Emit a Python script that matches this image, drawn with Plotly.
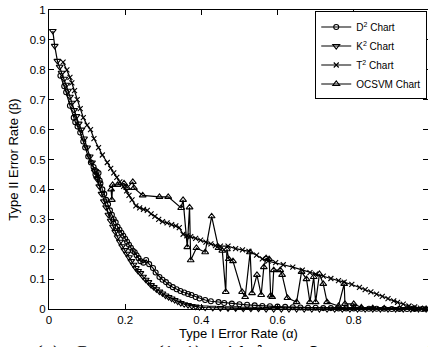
import plotly.graph_objects as go

# ---------------- data ----------------
d2_x = [0.030, 0.040, 0.045, 0.055, 0.065, 0.069, 0.075, 0.082, 0.090, 0.095, 0.103, 0.110, 0.117,
        0.120, 0.122, 0.125, 0.128, 0.130, 0.133, 0.135, 0.140, 0.145, 0.150, 0.155, 0.160, 0.165,
        0.170, 0.175, 0.180, 0.185, 0.190, 0.195, 0.200, 0.205, 0.210, 0.215, 0.220, 0.225, 0.230,
        0.235, 0.240, 0.248, 0.255, 0.263, 0.273, 0.280, 0.290, 0.298, 0.307, 0.315, 0.325, 0.335,
        0.345, 0.355, 0.365, 0.374, 0.385, 0.395, 0.410, 0.425, 0.445, 0.460, 0.480, 0.500, 0.520,
        0.540, 0.560, 0.580, 0.600, 0.620, 0.640, 0.660, 0.680, 0.700, 0.720, 0.740, 0.760, 0.780,
        0.800, 0.820, 0.840, 0.860, 0.880, 0.900, 0.920, 0.940, 0.960, 0.980, 1.000]
d2_y = [0.780, 0.745, 0.725, 0.680, 0.640, 0.625, 0.610, 0.590, 0.560, 0.540, 0.510, 0.490, 0.475,
        0.465, 0.450, 0.460, 0.440, 0.455, 0.430, 0.420, 0.400, 0.385, 0.365, 0.350, 0.330, 0.315,
        0.300, 0.290, 0.275, 0.265, 0.255, 0.245, 0.235, 0.225, 0.215, 0.205, 0.195, 0.190, 0.180,
        0.170, 0.160, 0.155, 0.164, 0.150, 0.137, 0.122, 0.107, 0.098, 0.090, 0.080, 0.073, 0.066,
        0.060, 0.055, 0.050, 0.047, 0.040, 0.035, 0.030, 0.026, 0.023, 0.020, 0.018, 0.016, 0.014,
        0.012, 0.010, 0.009, 0.008, 0.007, 0.006, 0.005, 0.004, 0.004, 0.003, 0.003, 0.002, 0.002,
        0.002, 0.001, 0.001, 0.001, 0.001, 0.000, 0.000, 0.000, 0.000, 0.000, 0.000]

k2_x = [0.010, 0.015, 0.022, 0.028, 0.033, 0.040, 0.045, 0.050, 0.055, 0.060, 0.066, 0.072, 0.078,
        0.085, 0.092, 0.100, 0.107, 0.113, 0.120, 0.126, 0.132, 0.138, 0.144, 0.150, 0.156, 0.162,
        0.168, 0.174, 0.180, 0.186, 0.192, 0.198, 0.204, 0.210, 0.216, 0.222, 0.228, 0.234, 0.240,
        0.247, 0.254, 0.261, 0.268, 0.275, 0.282, 0.290, 0.298, 0.306, 0.314, 0.322, 0.330, 0.338,
        0.346, 0.355, 0.365, 0.375, 0.385, 0.395, 0.410, 0.430, 0.450, 0.470, 0.490, 0.510, 0.530,
        0.550, 0.570, 0.590, 0.610, 0.630, 0.650, 0.670, 0.690, 0.710, 0.730, 0.750, 0.770, 0.790,
        0.810, 0.830, 0.850, 0.870, 0.890, 0.910, 0.930, 0.950, 0.970, 0.990]
k2_y = [0.930, 0.880, 0.830, 0.810, 0.790, 0.770, 0.750, 0.730, 0.710, 0.690, 0.665, 0.645, 0.620,
        0.600, 0.570, 0.540, 0.510, 0.490, 0.460, 0.435, 0.410, 0.385, 0.360, 0.340, 0.315, 0.295,
        0.275, 0.258, 0.240, 0.225, 0.210, 0.197, 0.185, 0.173, 0.160, 0.148, 0.137, 0.127, 0.120,
        0.108, 0.098, 0.090, 0.080, 0.073, 0.066, 0.058, 0.052, 0.045, 0.040, 0.035, 0.030, 0.025,
        0.020, 0.016, 0.013, 0.010, 0.008, 0.006, 0.005, 0.004, 0.003, 0.002, 0.002, 0.001, 0.001,
        0.001, 0.000, 0.000, 0.000, 0.000, 0.000, 0.000, 0.000, 0.000, 0.000, 0.000, 0.000, 0.000,
        0.000, 0.000, 0.000, 0.000, 0.000, 0.000, 0.000, 0.000, 0.000, 0.000]

t2_x = [0.037, 0.047, 0.055, 0.060, 0.067, 0.074, 0.082, 0.090, 0.100, 0.109, 0.118, 0.130, 0.140,
        0.153, 0.162, 0.170, 0.178, 0.186, 0.196, 0.204, 0.210, 0.218, 0.228, 0.238, 0.248, 0.258,
        0.268, 0.278, 0.288, 0.298, 0.310, 0.322, 0.333, 0.342, 0.352, 0.362, 0.372, 0.385, 0.398,
        0.412, 0.425, 0.437, 0.450, 0.470, 0.490, 0.508, 0.525, 0.545, 0.560, 0.575, 0.595, 0.615,
        0.640, 0.665, 0.685, 0.700, 0.720, 0.740, 0.760, 0.775, 0.795, 0.815, 0.830, 0.845, 0.860,
        0.875, 0.890, 0.905, 0.915, 0.930, 0.945, 0.960, 0.975, 0.990]
t2_y = [0.826, 0.800, 0.775, 0.756, 0.730, 0.700, 0.670, 0.640, 0.615, 0.600, 0.570, 0.540, 0.515,
        0.490, 0.470, 0.455, 0.440, 0.425, 0.410, 0.395, 0.380, 0.365, 0.345, 0.338, 0.333, 0.330,
        0.318, 0.310, 0.300, 0.292, 0.288, 0.282, 0.278, 0.272, 0.250, 0.245, 0.242, 0.236, 0.230,
        0.224, 0.218, 0.212, 0.210, 0.210, 0.202, 0.198, 0.193, 0.180, 0.168, 0.160, 0.155, 0.148,
        0.140, 0.130, 0.122, 0.117, 0.110, 0.102, 0.095, 0.090, 0.082, 0.072, 0.065, 0.057, 0.050,
        0.042, 0.035, 0.027, 0.022, 0.016, 0.010, 0.007, 0.003, 0.000]

oc_x = [0.163, 0.165, 0.167, 0.180, 0.197, 0.205, 0.220, 0.223, 0.246, 0.290, 0.313, 0.347, 0.352,
        0.363, 0.369, 0.372, 0.387, 0.410, 0.427, 0.445, 0.455, 0.464, 0.467, 0.472, 0.483, 0.507,
        0.515, 0.528, 0.533, 0.546, 0.557, 0.564, 0.570, 0.578, 0.582, 0.586, 0.590, 0.607, 0.612,
        0.626, 0.650, 0.663, 0.676, 0.685, 0.695, 0.700, 0.710, 0.720, 0.730, 0.760, 0.775, 0.777,
        0.800, 0.820, 0.850, 0.880, 0.920, 0.960, 0.990]
oc_y = [0.400, 0.365, 0.415, 0.415, 0.420, 0.405, 0.425, 0.405, 0.380, 0.375, 0.375, 0.338, 0.365,
        0.207, 0.340, 0.163, 0.204, 0.190, 0.310, 0.204, 0.195, 0.057, 0.200, 0.167, 0.160, 0.057,
        0.040, 0.190, 0.053, 0.114, 0.047, 0.140, 0.170, 0.167, 0.045, 0.040, 0.130, 0.130, 0.114,
        0.037, 0.023, 0.124, 0.100, 0.023, 0.107, 0.023, 0.117, 0.084, 0.023, 0.010, 0.084, 0.017,
        0.017, 0.005, 0.003, 0.002, 0.001, 0.000, 0.000]

series_names = ["D<sup>2</sup> Chart", "K<sup>2</sup> Chart", "T<sup>2</sup> Chart", "OCSVM Chart"]
x_ticks = [0, 0.2, 0.4, 0.6, 0.8, 1.0]
x_tick_text = ["0", "0.2", "0.4", "0.6", "0.8", "1"]
y_ticks = [0, 0.1, 0.2, 0.3, 0.4, 0.5, 0.6, 0.7, 0.8, 0.9, 1.0]
y_tick_text = ["0", "0.1", "0.2", "0.3", "0.4", "0.5", "0.6", "0.7", "0.8", "0.9", "1"]

# caption (only its top edge shows below the chart)
caption_words = ["(a)", "Case", "(1,", "1)", "with", "λ", "=", "3", "and"]
caption_px = [32, 70, 153, 181, 210, 253, 285, 305, 398]

# ---------------- figure ----------------
FONT = "Liberation Sans, Arial, sans-serif"
W, H = 428, 347
ML, MR, MT, MB = 49, 0, 10, 38
fig = go.Figure()

def add(xs, ys, name, symbol, size):
    fig.add_trace(go.Scatter(
        x=xs, y=ys, name=name, mode="lines+markers", cliponaxis=False,
        line=dict(color="black", width=1.2),
        marker=dict(symbol=symbol, size=size, color="black",
                    line=dict(color="black", width=1.1)),
    ))

add(d2_x, d2_y, series_names[0], "circle-open", 5)
add(k2_x, k2_y, series_names[1], "triangle-down-open", 6)
add(t2_x, t2_y, series_names[2], "x-thin", 5)
add(oc_x, oc_y, series_names[3], "triangle-up-open", 6)

axis_common = dict(
    showgrid=False, zeroline=False, showline=True, linecolor="black", linewidth=1,
    ticks="inside", ticklen=5, tickcolor="black", tickwidth=1, mirror="allticks",
    tickfont=dict(family=FONT, size=11.5, color="black"),
)

fig.update_layout(
    width=W, height=H,
    margin=dict(l=ML, r=MR, t=MT, b=MB),
    paper_bgcolor="white", plot_bgcolor="white",
    font=dict(family=FONT, color="black"),
    showlegend=True,
    legend=dict(x=0.998, xanchor="right", y=0.995, yanchor="top",
                bgcolor="white", bordercolor="black", borderwidth=1,
                font=dict(family=FONT, size=10, color="black"),
                itemwidth=30, tracegroupgap=0),
    xaxis=dict(range=[0, 0.995], tickvals=x_ticks, ticktext=x_tick_text,
               title=dict(text="Type I Error Rate (α)", standoff=2,
                          font=dict(family=FONT, size=13, color="black")),
               **axis_common),
    yaxis=dict(range=[0, 1], tickvals=y_ticks, ticktext=y_tick_text,
               title=dict(text="Type II Error Rate (β)", standoff=8,
                          font=dict(family=FONT, size=13, color="black")),
               **axis_common),
)

plot_w = W - ML - MR
for word, px in zip(caption_words, caption_px):
    fig.add_annotation(
        xref="paper", yref="paper", x=(px - ML) / plot_w, y=-0.1,
        xanchor="left", yanchor="top", text="<i>" + word + "</i>", showarrow=False,
        font=dict(family="Liberation Serif, DejaVu Serif, serif", size=21, color="black"),
    )

fig.write_html("out.html")
